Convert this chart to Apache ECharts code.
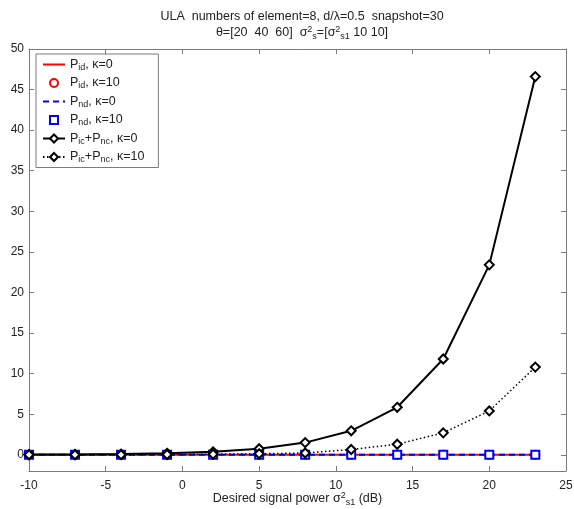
<!DOCTYPE html>
<html>
<head>
<meta charset="utf-8">
<script src="https://cdn.jsdelivr.net/npm/echarts@6/dist/echarts.min.js"></script>
<style>html,body{margin:0;padding:0;background:#fff}#c{width:574px;height:509px}</style>
</head>
<body>
<div id="c"></div>
<script>
const xValues = [-10, -7, -4, -1, 2, 5, 8, 11, 14, 17, 20, 23];
const pidK0 = [0, 0, 0, 0, 0, 0, 0, 0, 0, 0, 0, 0];
const pidK10 = [0, 0, 0, 0, 0, 0, 0, 0, 0, 0, 0, 0];
const pndK0 = [0, 0, 0, 0, 0, 0, 0, 0, 0, 0, 0, 0];
const pndK10 = [0, 0, 0, 0, 0, 0, 0, 0, 0, 0, 0, 0];
const picPncK0 = [0.02, 0.04, 0.08, 0.18, 0.36, 0.75, 1.5, 2.95, 5.85, 11.8, 23.4, 46.6];
const picPncK10 = [0, 0, 0.01, 0.03, 0.07, 0.12, 0.22, 0.65, 1.3, 2.7, 5.4, 10.8];
const yTicks = [0, 5, 10, 15, 20, 25, 30, 35, 40, 45, 50];
const legendNames = ['Pid0', 'Pid10', 'Pnd0', 'Pnd10', 'Picnc0', 'Picnc10'];
const legendLabels = {
  Pid0: '{n|P}{s|id}{n|, κ=0}',
  Pid10: '{n|P}{s|id}{n|, κ=10}',
  Pnd0: '{n|P}{s|nd}{n|, κ=0}',
  Pnd10: '{n|P}{s|nd}{n|, κ=10}',
  Picnc0: '{n|P}{s|ic}{n|+P}{s|nc}{n|, κ=0}',
  Picnc10: '{n|P}{s|ic}{n|+P}{s|nc}{n|, κ=10}'
};

const pair = arr => xValues.map((x, i) => [x, arr[i]]);
const FONT = 'Liberation Sans, Arial, sans-serif';
const TXT = '#222';
const AX = '#7a7a7a';
const richMath = {
  t: {fontFamily: FONT, fontSize: 12.5, color: TXT, lineHeight: 16, fontWeight: 'normal'},
  sup: {fontFamily: FONT, fontSize: 9, color: TXT, verticalAlign: 'top', lineHeight: 9, fontWeight: 'normal'},
  sub: {fontFamily: FONT, fontSize: 9, color: TXT, verticalAlign: 'bottom', lineHeight: 9, fontWeight: 'normal'}
};

const chart = echarts.init(document.getElementById('c'), null, {renderer: 'canvas'});
const baseAxis = {
  axisLine: {show: true, onZero: false, lineStyle: {color: AX, width: 1}},
  splitLine: {show: false},
  axisTick: {inside: true, length: 5, lineStyle: {color: AX}}
};
chart.setOption({
  backgroundColor: '#fff',
  animation: false,
  title: {
    left: 297, textAlign: 'center', top: 4,
    text: '{t|ULA  numbers of element=8, d/λ=0.5  snapshot=30}\n{t|θ=[20  40  60]  σ}{sup|2}{sub|s}{t|=[σ}{sup|2}{sub|s1}{t| 10 10]}',
    textStyle: {fontWeight: 'normal', rich: richMath}
  },
  grid: {left: 29, right: 8, top: 49, bottom: 38, containLabel: false, outerBoundsMode: 'none'},
  xAxis: [
    Object.assign({}, baseAxis, {
      type: 'value', min: -10, max: 25, interval: 5, position: 'bottom',
      axisLabel: {fontFamily: FONT, fontSize: 12, color: TXT, margin: 9},
      name: '{t|Desired signal power σ}{sup|2}{sub|s1}{t| (dB)}',
      nameLocation: 'middle', nameGap: 20, nameMoveOverlap: false,
      nameTextStyle: {rich: richMath}
    }),
    Object.assign({}, baseAxis, {
      type: 'value', min: -10, max: 25, interval: 5, position: 'top',
      axisLabel: {show: false}
    })
  ],
  yAxis: [
    Object.assign({}, baseAxis, {
      type: 'value', min: -2, max: 50, position: 'left',
      axisLabel: {fontFamily: FONT, fontSize: 12, color: TXT, margin: 5, customValues: yTicks},
      axisTick: {inside: true, length: 5, lineStyle: {color: AX}, customValues: yTicks}
    }),
    Object.assign({}, baseAxis, {
      type: 'value', min: -2, max: 50, position: 'right',
      axisLabel: {show: false, customValues: yTicks},
      axisTick: {inside: true, length: 5, lineStyle: {color: AX}, customValues: yTicks}
    })
  ],
  legend: {
    orient: 'vertical', left: 36, top: 54,
    data: [
      {name: 'Pid0', itemStyle: {opacity: 0}},
      {name: 'Pid10'},
      {name: 'Pnd0', itemStyle: {opacity: 0}},
      {name: 'Pnd10'},
      {name: 'Picnc0'},
      {name: 'Picnc10'}
    ],
    backgroundColor: '#fff', borderColor: '#7a7a7a', borderWidth: 1,
    padding: [4, 14, 3, 6], itemGap: 4.5, itemWidth: 22, itemHeight: 10,
    formatter: n => legendLabels[n],
    textStyle: {
      rich: {
        n: {fontFamily: FONT, fontSize: 12.5, color: TXT, lineHeight: 15},
        s: {fontFamily: FONT, fontSize: 9, color: TXT, verticalAlign: 'bottom', lineHeight: 9}
      }
    }
  },
  series: [
    {name: 'Pid0', type: 'line', data: pair(pidK0), showSymbol: false, symbol: 'none',
     lineStyle: {color: '#ff0000', width: 2}, itemStyle: {color: '#ff0000'}, z: 2},
    {name: 'Pid10', type: 'line', data: pair(pidK10), symbol: 'emptyCircle', symbolSize: 8,
     lineStyle: {width: 0, opacity: 0}, itemStyle: {color: '#ff0000', borderColor: '#ff0000', borderWidth: 2}, z: 3},
    {name: 'Pnd0', type: 'line', data: pair(pndK0), showSymbol: false, symbol: 'none',
     lineStyle: {color: '#0000ff', width: 2, type: [6, 4]}, itemStyle: {color: '#0000ff'}, z: 4},
    {name: 'Pnd10', type: 'line', data: pair(pndK10), symbol: 'emptyRect', symbolSize: 8,
     lineStyle: {width: 0, opacity: 0}, itemStyle: {color: '#0000ff', borderColor: '#0000ff', borderWidth: 2}, z: 5},
    {name: 'Picnc0', type: 'line', data: pair(picPncK0), symbol: 'emptyDiamond', symbolSize: 9,
     lineStyle: {color: '#000', width: 2}, itemStyle: {color: '#000', borderColor: '#000', borderWidth: 2.5}, z: 6},
    {name: 'Picnc10', type: 'line', data: pair(picPncK10), symbol: 'emptyDiamond', symbolSize: 9,
     lineStyle: {color: '#000', width: 1.5, type: [1.5, 2.5]}, itemStyle: {color: '#000', borderColor: '#000', borderWidth: 2}, z: 7}
  ]
});
</script>
</body>
</html>
